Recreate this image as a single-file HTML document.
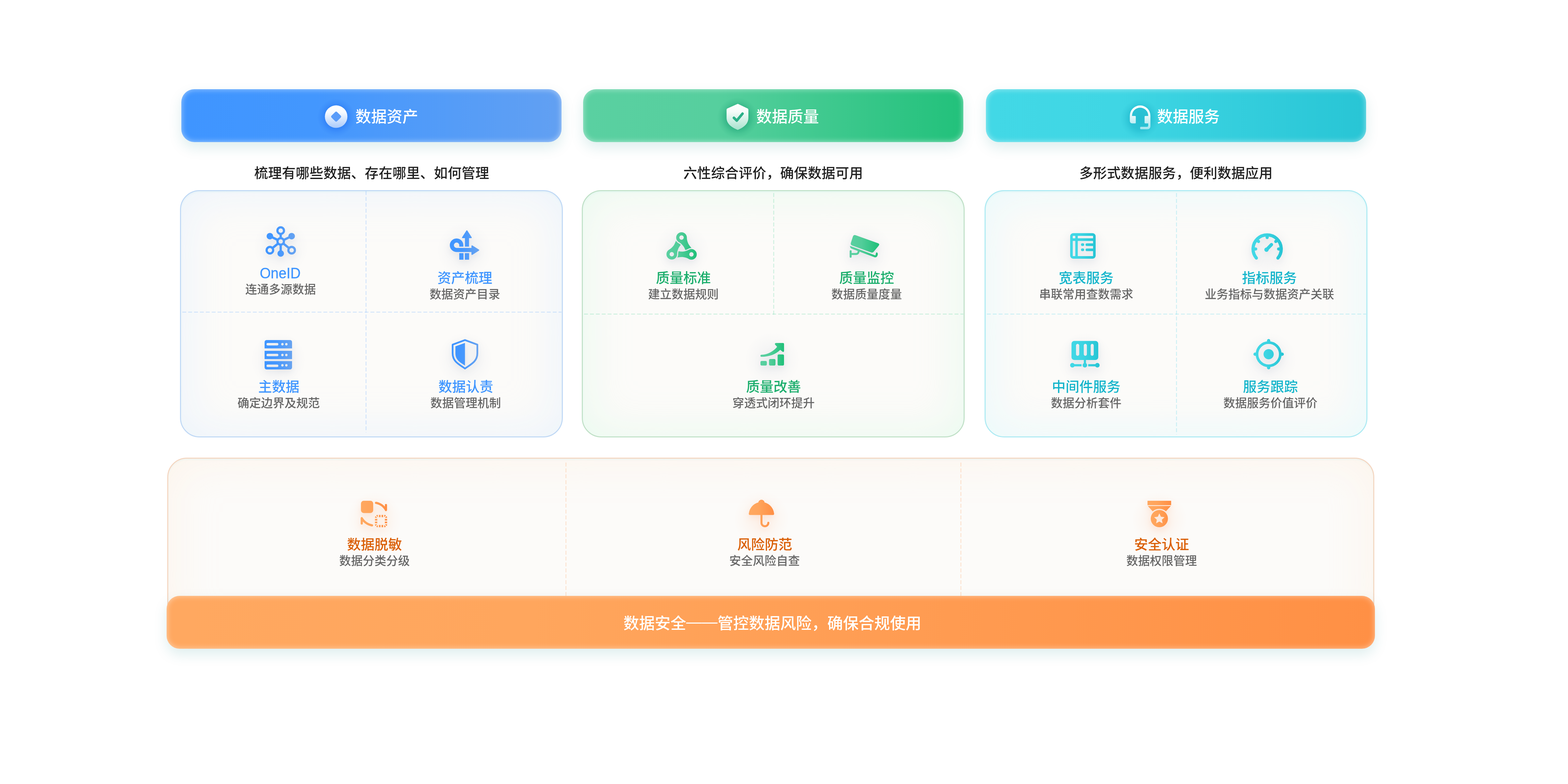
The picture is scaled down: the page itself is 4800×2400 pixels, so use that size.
<!DOCTYPE html>
<html lang="zh-CN">
<head>
<meta charset="utf-8">
<title>数据治理</title>
<style>
*{box-sizing:border-box;margin:0;padding:0}
html,body{width:4800px;height:2400px;background:#fff;overflow:hidden}
body{position:relative;will-change:transform;font-family:"Liberation Sans", "Noto Sans CJK SC", sans-serif;-webkit-font-smoothing:antialiased}
.abs{position:absolute}
.hdr{position:absolute;top:273px;width:1164px;height:162px;border-radius:40px;
  box-shadow:inset 0 0 18px rgba(255,255,255,.55),0 17px 40px rgba(0,125,130,.135)}
.hdr.b{left:555px;background:linear-gradient(90deg,#3f95ff 0%,#4397fe 35%,#62a0f2 100%)}
.hdr.g{left:1785px;background:linear-gradient(90deg,#5ad0a1 0%,#56cf9e 35%,#22c17b 100%)}
.hdr.c{left:3018px;background:linear-gradient(90deg,#42d8e6 0%,#3fd6e4 35%,#28c5d5 100%)}
.hdr .t{position:absolute;top:4px;height:162px;line-height:162px;font-size:48px;font-weight:500;color:#fff;white-space:nowrap}
.hdr svg{position:absolute;overflow:visible}
.sub{position:absolute;top:501px;letter-spacing:.3px;height:60px;line-height:60px;font-size:42px;font-weight:500;color:#1f1f1f;white-space:nowrap;text-align:center;width:1000px}
.panel{position:absolute;top:582px;width:1172px;height:757px;border-radius:60px;border:3px solid;background:#fcfbf9}
.panel.b{left:551px;border-color:#bfd8f5;box-shadow:inset 0 0 140px rgba(226,240,253,.7),inset 0 3px 5px rgba(0,185,195,.1)}
.panel.g{left:1781px;border-color:#bfe0c6;box-shadow:inset 0 0 140px rgba(224,250,233,.75),inset 0 3px 5px rgba(0,185,195,.1)}
.panel.c{left:3014px;border-color:#abeaf3;box-shadow:inset 0 0 140px rgba(222,249,253,.7),inset 0 3px 5px rgba(0,185,195,.1)}
.panel.o{left:512px;top:1401px;width:3695px;height:570px;border-color:#f4d5bf;box-shadow:inset 0 0 140px rgba(253,241,228,.7),inset 0 3px 5px rgba(0,185,195,.1)}
.bar{position:absolute;left:510px;top:1824px;width:3699px;height:162px;border-radius:40px;
  background:linear-gradient(90deg,#ffa860 0%,#ffa65d 30%,#ff9045 100%);
  box-shadow:inset 0 0 18px rgba(255,255,255,.5),0 17px 40px rgba(0,125,130,.135);
  color:#fff;font-size:48px;font-weight:500;line-height:162px;text-align:center;white-space:nowrap}
.bar span{position:relative;left:5px;top:4px}
.bar i{font-style:normal;position:relative;top:-5px}
.vl,.hl{position:absolute}
.vl{width:3px}
.hl{height:3px}
.vl.b{background:repeating-linear-gradient(180deg,rgba(64,150,255,.2) 0 12px,transparent 12px 18px)}
.hl.b{background:repeating-linear-gradient(90deg,rgba(64,150,255,.2) 0 12px,transparent 12px 18px)}
.vl.g{background:repeating-linear-gradient(180deg,rgba(40,200,130,.2) 0 12px,transparent 12px 18px)}
.hl.g{background:repeating-linear-gradient(90deg,rgba(40,200,130,.2) 0 12px,transparent 12px 18px)}
.vl.c{background:repeating-linear-gradient(180deg,rgba(40,200,225,.2) 0 12px,transparent 12px 18px)}
.hl.c{background:repeating-linear-gradient(90deg,rgba(40,200,225,.2) 0 12px,transparent 12px 18px)}
.vl.o{background:repeating-linear-gradient(180deg,rgba(255,140,60,.2) 0 12px,transparent 12px 18px)}
.ti,.de{position:absolute;width:800px;text-align:center;white-space:nowrap}
.ti{font-size:42px;font-weight:500;height:56px;line-height:56px}
.de{font-size:36px;font-weight:500;height:50px;line-height:50px;color:#666}
.lat{display:inline-block;transform:scale(1.03,1.115);transform-origin:50% 76%;-webkit-text-stroke:.5px #4096ff}
.ti.b{color:#4096ff}.ti.g{color:#1bae6c}.ti.c{color:#14b5cb}.ti.o{color:#da5f06}
.ic{position:absolute;width:160px;height:140px;overflow:visible}
.ic.b,.ic.g,.ic.c{filter:drop-shadow(0 9px 10px rgba(95,112,150,.11))}
.ic.o{filter:drop-shadow(0 9px 10px rgba(255,125,55,.13))}
.bl{position:absolute;width:170px;height:170px;border-radius:50%}
.bl.n{background:radial-gradient(closest-side,rgba(100,118,160,.06) 0%,rgba(100,118,160,.05) 35%,rgba(100,118,160,.018) 72%,rgba(100,118,160,0) 100%)}
.bl.o{background:radial-gradient(closest-side,rgba(255,130,60,.075) 0%,rgba(255,130,60,.062) 35%,rgba(255,130,60,.024) 72%,rgba(255,130,60,0) 100%)}
</style>
</head>
<body>
<svg width="0" height="0" style="position:absolute">
<defs>
<linearGradient id="gb" gradientUnits="userSpaceOnUse" x1="34" y1="0" x2="126" y2="0"><stop offset="0" stop-color="#3f95ff"/><stop offset=".35" stop-color="#4397fe"/><stop offset="1" stop-color="#66a2f1"/></linearGradient>
<linearGradient id="gg" gradientUnits="userSpaceOnUse" x1="34" y1="0" x2="126" y2="0"><stop offset="0" stop-color="#5ad0a1"/><stop offset=".35" stop-color="#55ce9d"/><stop offset="1" stop-color="#22c17b"/></linearGradient>
<linearGradient id="gc" gradientUnits="userSpaceOnUse" x1="34" y1="0" x2="126" y2="0"><stop offset="0" stop-color="#42d8e6"/><stop offset=".35" stop-color="#3fd6e4"/><stop offset="1" stop-color="#28c5d5"/></linearGradient>
<linearGradient id="go" gradientUnits="userSpaceOnUse" x1="34" y1="0" x2="126" y2="0"><stop offset="0" stop-color="#ffa860"/><stop offset=".35" stop-color="#ffa55c"/><stop offset="1" stop-color="#ff9045"/></linearGradient>
<linearGradient id="hb" x1="0" y1="0" x2="0" y2="1"><stop offset="0" stop-color="#ffffff"/><stop offset=".3" stop-color="#f8fbff"/><stop offset="1" stop-color="#a9cafb"/></linearGradient>
<linearGradient id="hg" x1="0" y1="0" x2="0" y2="1"><stop offset="0" stop-color="#ffffff"/><stop offset=".3" stop-color="#f6fcfa"/><stop offset="1" stop-color="#a6e2cd"/></linearGradient>
<linearGradient id="hc" x1="0" y1="0" x2="0" y2="1"><stop offset="0" stop-color="#ffffff"/><stop offset=".3" stop-color="#f4fcfd"/><stop offset="1" stop-color="#a2e6ef"/></linearGradient>
<radialGradient id="glb"><stop offset="0" stop-color="#1866f0" stop-opacity=".5"/><stop offset=".55" stop-color="#1866f0" stop-opacity=".42"/><stop offset=".8" stop-color="#1866f0" stop-opacity=".14"/><stop offset="1" stop-color="#1866f0" stop-opacity="0"/></radialGradient>
<radialGradient id="glg"><stop offset="0" stop-color="#008a62" stop-opacity=".45"/><stop offset=".55" stop-color="#008a62" stop-opacity=".35"/><stop offset=".8" stop-color="#008a62" stop-opacity=".11"/><stop offset="1" stop-color="#008a62" stop-opacity="0"/></radialGradient>
<radialGradient id="glc"><stop offset="0" stop-color="#0098b4" stop-opacity=".38"/><stop offset=".55" stop-color="#0098b4" stop-opacity=".3"/><stop offset=".8" stop-color="#0098b4" stop-opacity=".1"/><stop offset="1" stop-color="#0098b4" stop-opacity="0"/></radialGradient>
</defs></svg>
<div class="hdr b"><svg style="left:394px;top:4px" width="160" height="160" viewBox="0 0 160 160"><circle cx="80" cy="82" r="58" fill="url(#glb)"/><circle cx="80" cy="80" r="34.5" fill="url(#hb)"/><path fill="#5a9cf9" d="M76.82 66.18Q80 63 83.18 66.18L93.82 76.82Q97 80 93.82 83.18L83.18 93.82Q80 97 76.82 93.82L66.18 83.18Q63 80 66.18 76.82Z"/></svg><div class="t" style="left:533px">数据资产</div></div>
<div class="hdr g"><svg style="left:392px;top:4px" width="160" height="160" viewBox="0 0 160 160"><circle cx="80.5" cy="83" r="62" fill="url(#glg)"/><path fill="url(#hg)" d="M80.5 41.3Q81.5 40.6 82.6 41.2L111.5 55Q114 56.2 114 59V84C114 104 96 114.5 82.5 120.2Q81.4 120.7 80.3 120.2C66.5 114.5 47.2 104 47.2 84V59Q47.2 56.2 49.7 55Z"/><path fill="none" stroke="#2bb088" stroke-width="7.8" stroke-linecap="round" stroke-linejoin="round" d="M69.7 83.7L78.4 92.3L96 71"/></svg><div class="t" style="left:530px">数据质量</div></div>
<div class="hdr c"><svg style="left:392px;top:4px" width="160" height="160" viewBox="0 0 160 160"><circle cx="80" cy="86" r="60" fill="url(#glc)"/><path fill="url(#hc)" fill-rule="evenodd" d="M48.7 77.3A31.5 31.5 0 0 1 111.7 77.3V108.8Q111.7 118.8 101.7 118.8H82.3Q80.3 118.8 80.3 116.8V113.2Q80.3 111.2 82.3 111.2H101Q105 111.2 105 107.2V100.8H95.8Q93.8 100.8 93.8 98.8V80Q93.8 78 95.8 78H105V77.3A24.8 24.8 0 0 0 55.4 77.3V78H64.9Q66.9 78 66.9 80V98.8Q66.9 100.8 64.9 100.8H56.7Q48.7 100.8 48.7 92.8Z"/></svg><div class="t" style="left:524px">数据服务</div></div>
<div class="sub" style="left:638px">梳理有哪些数据、存在哪里、如何管理</div>
<div class="sub" style="left:1867px">六性综合评价，确保数据可用</div>
<div class="sub" style="left:3100px">多形式数据服务，便利数据应用</div>
<div class="panel b"></div>
<div class="panel g"></div>
<div class="panel c"></div>
<div class="panel o"></div>
<div class="vl b" style="left:1119px;top:585px;height:739px"></div>
<div class="hl b" style="left:558px;top:954px;width:1161px"></div>
<div class="vl g" style="left:2367px;top:591px;height:372px"></div>
<div class="hl g" style="left:1788px;top:960px;width:1161px"></div>
<div class="vl c" style="left:3600px;top:591px;height:739px"></div>
<div class="hl c" style="left:3021px;top:960px;width:1161px"></div>
<div class="vl o" style="left:1731px;top:1416px;height:408px"></div>
<div class="vl o" style="left:2940px;top:1416px;height:408px"></div>
<div class="bl n" style="left:774.5px;top:670.5px"></div>
<svg class="ic b" style="left:780px;top:670px" viewBox="0 0 160 140"><defs><linearGradient id="g-oneid" gradientUnits="userSpaceOnUse" x1="33" y1="0" x2="126" y2="0"><stop offset="0" stop-color="#3f95ff"/><stop offset=".4" stop-color="#4497fe"/><stop offset="1" stop-color="#68a3f0"/></linearGradient></defs><g fill="none" stroke="url(#g-oneid)" stroke-width="6.6"><circle cx="79.3" cy="69" r="9.9"/><circle cx="79.3" cy="35.9" r="10.05"/><circle cx="46.2" cy="95.9" r="10"/><circle cx="112.8" cy="95.9" r="10"/></g><g fill="url(#g-oneid)"><circle cx="46.2" cy="52.9" r="10"/><circle cx="112.8" cy="52.9" r="10"/><circle cx="79.3" cy="106" r="10"/></g><g stroke="url(#g-oneid)" stroke-width="7" fill="none"><path d="M79.3 57L79.3 47.9"/><path d="M79.3 81L79.3 101"/><path d="M68.51 63.75L50.7 55.09"/><path d="M90.12 63.8L108.29 55.07"/><path d="M69.99 76.57L55.51 88.33"/><path d="M88.66 76.51L103.44 88.39"/></g></svg>
<div class="ti b" style="left:458.0px;top:809.5px"><span class="lat">OneID</span></div>
<div class="de" style="left:459.0px;top:861.5px">连通多源数据</div>
<div class="bl n" style="left:1337.0px;top:681.0px"></div>
<svg class="ic b" style="left:1345px;top:680px" viewBox="0 0 160 140"><defs><linearGradient id="g-route" gradientUnits="userSpaceOnUse" x1="32" y1="0" x2="122" y2="0"><stop offset="0" stop-color="#3f95ff"/><stop offset=".4" stop-color="#4497fe"/><stop offset="1" stop-color="#68a3f0"/></linearGradient></defs><path fill="url(#g-route)" d="M82.35 26.49Q84.2 23.6 86.06 26.49L98.42 45.71Q100.6 49.1 96.57 49.1L71.92 49.1Q67.9 49.1 70.06 45.72Z"/><path fill="url(#g-route)" d="M78.3 48h12.5v27h-12.5z"/><path fill="none" stroke="url(#g-route)" stroke-width="12.5" d="M67.15 75V70.7A14.45 14.45 0 1 0 52.7 85.15H99"/><path fill="url(#g-route)" d="M120.67 83.66Q123.6 85.5 120.69 87.38L101.59 99.71Q98.2 101.9 98.2 97.86L98.2 73.57Q98.2 69.6 101.57 71.71Z"/><path fill="url(#g-route)" d="M60.9 95.1h13v19.9h-13zM78 95.1h13.1v19.9h-13.1z"/></svg>
<div class="ti b" style="left:1023.0px;top:823.5px">资产梳理</div>
<div class="de" style="left:1023.0px;top:876.5px">数据资产目录</div>
<div class="bl n" style="left:767.0px;top:1017.0px"></div>
<svg class="ic b" style="left:772px;top:1015px" viewBox="0 0 160 140"><defs><linearGradient id="g-server" gradientUnits="userSpaceOnUse" x1="38" y1="0" x2="122" y2="0"><stop offset="0" stop-color="#3f95ff"/><stop offset=".4" stop-color="#4497fe"/><stop offset="1" stop-color="#68a3f0"/></linearGradient></defs><path fill="url(#g-server)" fill-rule="evenodd" d="M44 25.9H116a6 6 0 0 1 6 6V51.6H38V31.9a6 6 0 0 1 6-6ZM38 59H122V84.2H38ZM38 90.4H122V110.1a6 6 0 0 1-6 6H44a6 6 0 0 1-6-6ZM47.6 35h28.8a3.8 3.8 0 0 1 3.8 3.8v0a3.8 3.8 0 0 1 -3.8 3.8h-28.8a3.8 3.8 0 0 1 -3.8 -3.8v-0a3.8 3.8 0 0 1 3.8 -3.8ZM88.8 38.8a3.7 3.7 0 1 0 7.4 0a3.7 3.7 0 1 0 -7.4 0ZM100.9 38.8a3.7 3.7 0 1 0 7.4 0a3.7 3.7 0 1 0 -7.4 0ZM47.6 67.9h28.8a3.8 3.8 0 0 1 3.8 3.8v0a3.8 3.8 0 0 1 -3.8 3.8h-28.8a3.8 3.8 0 0 1 -3.8 -3.8v-0a3.8 3.8 0 0 1 3.8 -3.8ZM88.8 71.7a3.7 3.7 0 1 0 7.4 0a3.7 3.7 0 1 0 -7.4 0ZM100.9 71.7a3.7 3.7 0 1 0 7.4 0a3.7 3.7 0 1 0 -7.4 0ZM47.6 100.9h28.8a3.8 3.8 0 0 1 3.8 3.8v0a3.8 3.8 0 0 1 -3.8 3.8h-28.8a3.8 3.8 0 0 1 -3.8 -3.8v-0a3.8 3.8 0 0 1 3.8 -3.8ZM88.8 103.2a3.7 3.7 0 1 0 7.4 0a3.7 3.7 0 1 0 -7.4 0ZM100.9 103.2a3.7 3.7 0 1 0 7.4 0a3.7 3.7 0 1 0 -7.4 0Z"/></svg>
<div class="ti b" style="left:453.5px;top:1156.5px">主数据</div>
<div class="de" style="left:453.0px;top:1210.0px">确定边界及规范</div>
<div class="bl n" style="left:1338.5px;top:1015.5px"></div>
<svg class="ic b" style="left:1343px;top:1015px" viewBox="0 0 160 140"><defs><linearGradient id="g-shield" gradientUnits="userSpaceOnUse" x1="40" y1="0" x2="121" y2="0"><stop offset="0" stop-color="#3f95ff"/><stop offset=".4" stop-color="#4497fe"/><stop offset="1" stop-color="#68a3f0"/></linearGradient></defs><path fill="none" stroke="url(#g-shield)" stroke-width="5.3" stroke-linejoin="round" d="M80.4 25.9L118.3 39.9V66C118.3 92 99 100 80.4 113.1C61.8 100 42.6 92 42.6 66V39.9Z"/><path fill="url(#g-shield)" d="M80.4 34.8L51.1 45.2V66.5C51.1 87 66 94.5 80.4 104.1Z"/></svg>
<div class="ti b" style="left:1026.0px;top:1156.5px">数据认责</div>
<div class="de" style="left:1025.5px;top:1210.0px">数据管理机制</div>
<div class="bl n" style="left:2001.5px;top:684.0px"></div>
<svg class="ic g" style="left:2007px;top:685px" viewBox="0 0 160 140"><defs><linearGradient id="g-chain" gradientUnits="userSpaceOnUse" x1="33" y1="0" x2="126" y2="0"><stop offset="0" stop-color="#5ad0a1"/><stop offset=".4" stop-color="#52cd9a"/><stop offset="1" stop-color="#1fc079"/></linearGradient></defs><defs><mask id="cm0" maskUnits="userSpaceOnUse" x="0" y="0" width="160" height="140"><rect width="160" height="140" fill="#fff"/><path d="M102.04 79.26Q94.66 84 82.66 85.22Q73.65 85.46 53.58 80.83L53.42 105.83Q73.55 101.46 82.55 101.82Q94.54 103.2 101.85 108.04ZM93.3 93.7a16.3 16.3 0 1 0 32.6 0a16.3 16.3 0 1 0 -32.6 0Z" fill="#000" stroke="#000" stroke-width="6.4" stroke-linejoin="round"/><circle cx="79.3" cy="42.2" r="6.7" fill="#000"/></mask><mask id="cm1" maskUnits="userSpaceOnUse" x="0" y="0" width="160" height="140"><rect width="160" height="140" fill="#fff"/><path d="M65.79 93.94Q65.35 85.18 70.27 74.16Q74.55 66.23 88.08 51.95L66.49 39.36Q60.72 58.17 55.93 65.8Q48.76 75.51 40.92 79.44ZM33.2 93.3a16.3 16.3 0 1 0 32.6 0a16.3 16.3 0 1 0 -32.6 0Z" fill="#000" stroke="#000" stroke-width="6.4" stroke-linejoin="round"/><circle cx="109.6" cy="93.7" r="6.7" fill="#000"/></mask><mask id="cm2" maskUnits="userSpaceOnUse" x="0" y="0" width="160" height="140"><rect width="160" height="140" fill="#fff"/><path d="M70.78 56.09Q78.63 60 85.84 69.68Q90.66 77.28 96.8 96.59L118.35 83.91Q104.45 69.17 100.15 61.26Q95.18 50.26 95.58 41.5ZM63 42.2a16.3 16.3 0 1 0 32.6 0a16.3 16.3 0 1 0 -32.6 0Z" fill="#000" stroke="#000" stroke-width="6.4" stroke-linejoin="round"/><circle cx="49.5" cy="93.3" r="6.7" fill="#000"/></mask></defs><g mask="url(#cm0)"><path fill="url(#g-chain)" d="M70.78 56.09Q78.63 60 85.84 69.68Q90.66 77.28 96.8 96.59L118.35 83.91Q104.45 69.17 100.15 61.26Q95.18 50.26 95.58 41.5ZM63 42.2a16.3 16.3 0 1 0 32.6 0a16.3 16.3 0 1 0 -32.6 0Z"/></g><g mask="url(#cm1)"><path fill="url(#g-chain)" d="M102.04 79.26Q94.66 84 82.66 85.22Q73.65 85.46 53.58 80.83L53.42 105.83Q73.55 101.46 82.55 101.82Q94.54 103.2 101.85 108.04ZM93.3 93.7a16.3 16.3 0 1 0 32.6 0a16.3 16.3 0 1 0 -32.6 0Z"/></g><g mask="url(#cm2)"><path fill="url(#g-chain)" d="M65.79 93.94Q65.35 85.18 70.27 74.16Q74.55 66.23 88.08 51.95L66.49 39.36Q60.72 58.17 55.93 65.8Q48.76 75.51 40.92 79.44ZM33.2 93.3a16.3 16.3 0 1 0 32.6 0a16.3 16.3 0 1 0 -32.6 0Z"/></g></svg>
<div class="ti g" style="left:1692.0px;top:823.5px">质量标准</div>
<div class="de" style="left:1692.0px;top:876.5px">建立数据规则</div>
<div class="bl n" style="left:2561.0px;top:685.0px"></div>
<svg class="ic g" style="left:2566px;top:690px" viewBox="0 0 160 140"><defs><linearGradient id="g-camera" gradientUnits="userSpaceOnUse" x1="35" y1="0" x2="125" y2="0"><stop offset="0" stop-color="#5ad0a1"/><stop offset=".4" stop-color="#52cd9a"/><stop offset="1" stop-color="#1fc079"/></linearGradient></defs><path fill="url(#g-camera)" d="M44.79 34.6Q47 27.7 53.82 30.16L121.42 54.49Q128.1 56.9 123.58 62.38L108.64 80.5Q105.5 84.3 100.86 82.63L43.15 61.79Q36.8 59.5 38.86 53.07Z"/><path fill="url(#g-camera)" d="M36.2 62.8L112.6 91.5Q114 92 114.3 90.3L115.6 84.2Q117.5 80.8 120 84Q122.3 87.5 120.2 92.3Q117.5 99.5 110.3 97.3L42.5 71.8Q36.2 69.5 36.2 64Z"/><path fill="none" stroke="url(#g-camera)" stroke-width="6" stroke-linecap="round" d="M38 79V96"/><path fill="none" stroke="url(#g-camera)" stroke-width="6" stroke-linecap="butt" d="M38 87.4H55Q61 87.4 62.5 80L63.4 76.5"/></svg>
<div class="ti g" style="left:2253.0px;top:823.5px">质量监控</div>
<div class="de" style="left:2253.0px;top:876.5px">数据质量度量</div>
<div class="bl n" style="left:2279.0px;top:1015.5px"></div>
<svg class="ic g" style="left:2285px;top:1015px" viewBox="0 0 160 140"><defs><linearGradient id="g-growth" gradientUnits="userSpaceOnUse" x1="43" y1="0" x2="115" y2="0"><stop offset="0" stop-color="#5ad0a1"/><stop offset=".4" stop-color="#52cd9a"/><stop offset="1" stop-color="#1fc079"/></linearGradient></defs><path fill="url(#g-growth)" d="M46.9 90h11.6a4 4 0 0 1 4 4v6.1a4 4 0 0 1 -4 4h-11.6a4 4 0 0 1 -4 -4v-6.1a4 4 0 0 1 4 -4ZM73.2 83.9h11.7a4 4 0 0 1 4 4v12.2a4 4 0 0 1 -4 4h-11.7a4 4 0 0 1 -4 -4v-12.2a4 4 0 0 1 4 -4ZM99.4 69.9h11.6a4 4 0 0 1 4 4v26.2a4 4 0 0 1 -4 4h-11.6a4 4 0 0 1 -4 -4v-26.2a4 4 0 0 1 4 -4Z"/><path fill="url(#g-growth)" d="M45.9 71.1C66 70.3 82.5 60.5 94 46.7L88.2 40.6Q85.2 36.8 89.8 35.1L111.8 35Q115.1 35 115.1 38.3V59.3Q114.4 64 110.3 61.6L103.4 55.9C90 69.5 69.5 77 45.9 77.2A3.05 3.05 0 0 1 45.9 71.1Z"/></svg>
<div class="ti g" style="left:1968.0px;top:1156.5px">质量改善</div>
<div class="de" style="left:1968.0px;top:1210.0px">穿透式闭环提升</div>
<div class="bl n" style="left:3230.0px;top:684.0px"></div>
<svg class="ic c" style="left:3235px;top:685px" viewBox="0 0 160 140"><defs><linearGradient id="g-table" gradientUnits="userSpaceOnUse" x1="41" y1="0" x2="119" y2="0"><stop offset="0" stop-color="#42d8e6"/><stop offset=".4" stop-color="#3dd5e3"/><stop offset="1" stop-color="#26c4d4"/></linearGradient></defs><path fill="url(#g-table)" fill-rule="evenodd" d="M50.5 28.8h59a9.5 9.5 0 0 1 9.5 9.5v59.3a9.5 9.5 0 0 1 -9.5 9.5h-59a9.5 9.5 0 0 1 -9.5 -9.5v-59.3a9.5 9.5 0 0 1 9.5 -9.5ZM50.1 37h5.4a1.2 1.2 0 0 1 1.2 1.2v5.2a1.2 1.2 0 0 1 -1.2 1.2h-5.4a1.2 1.2 0 0 1 -1.2 -1.2v-5.2a1.2 1.2 0 0 1 1.2 -1.2ZM65.5 37h44.4a1.2 1.2 0 0 1 1.2 1.2v5.2a1.2 1.2 0 0 1 -1.2 1.2h-44.4a1.2 1.2 0 0 1 -1.2 -1.2v-5.2a1.2 1.2 0 0 1 1.2 -1.2ZM50.1 52.4h5.4a1.2 1.2 0 0 1 1.2 1.2v44.3a1.2 1.2 0 0 1 -1.2 1.2h-5.4a1.2 1.2 0 0 1 -1.2 -1.2v-44.3a1.2 1.2 0 0 1 1.2 -1.2ZM65.5 52.4h44.4a1.2 1.2 0 0 1 1.2 1.2v44.3a1.2 1.2 0 0 1 -1.2 1.2h-44.4a1.2 1.2 0 0 1 -1.2 -1.2v-44.3a1.2 1.2 0 0 1 1.2 -1.2Z"/><path fill="url(#g-table)" d="M78.2 59.8h1.7a4.1 4.1 0 0 1 4.1 4.1v0a4.1 4.1 0 0 1 -4.1 4.1h-1.7a4.1 4.1 0 0 1 -4.1 -4.1v-0a4.1 4.1 0 0 1 4.1 -4.1ZM92 59.9H112V67.9H92a4 4 0 0 1 0 -8Z"/><path fill="url(#g-table)" d="M78.2 75.6h1.7a4.1 4.1 0 0 1 4.1 4.1v0a4.1 4.1 0 0 1 -4.1 4.1h-1.7a4.1 4.1 0 0 1 -4.1 -4.1v-0a4.1 4.1 0 0 1 4.1 -4.1ZM92 75.7H112V83.7H92a4 4 0 0 1 0 -8Z"/></svg>
<div class="ti c" style="left:2925.0px;top:823.5px">宽表服务</div>
<div class="de" style="left:2925.0px;top:876.5px">串联常用查数需求</div>
<div class="bl n" style="left:3794.0px;top:685.5px"></div>
<svg class="ic c" style="left:3799px;top:685px" viewBox="0 0 160 140"><defs><linearGradient id="g-gauge" gradientUnits="userSpaceOnUse" x1="32" y1="0" x2="128" y2="0"><stop offset="0" stop-color="#42d8e6"/><stop offset=".4" stop-color="#3dd5e3"/><stop offset="1" stop-color="#26c4d4"/></linearGradient></defs><path fill="none" stroke="url(#g-gauge)" stroke-width="9.8" stroke-linecap="round" d="M46.98 104.9A43.1 43.1 0 1 1 113.02 104.9"/><path fill="none" stroke="url(#g-gauge)" stroke-width="9.6" stroke-linecap="round" d="M39 77.2L45 77.2M49.06 50.3L53.59 54.24M80 36.2L80 42.2M110.94 50.3L106.41 54.24M121 77.2L115 77.2"/><path fill="none" stroke="url(#g-gauge)" stroke-width="10" stroke-linecap="round" d="M78.5 79L93.2 63.8"/><circle cx="78" cy="79.4" r="6.6" fill="url(#g-gauge)"/></svg>
<div class="ti c" style="left:3486.0px;top:823.5px">指标服务</div>
<div class="de" style="left:3486.0px;top:876.5px">业务指标与数据资产关联</div>
<div class="bl n" style="left:3236.0px;top:1015.5px"></div>
<svg class="ic c" style="left:3241px;top:1015px" viewBox="0 0 160 140"><defs><linearGradient id="g-mid" gradientUnits="userSpaceOnUse" x1="35" y1="0" x2="125" y2="0"><stop offset="0" stop-color="#42d8e6"/><stop offset=".4" stop-color="#3dd5e3"/><stop offset="1" stop-color="#26c4d4"/></linearGradient></defs><path fill="url(#g-mid)" fill-rule="evenodd" d="M47.6 28.8h64.9a8.5 8.5 0 0 1 8.5 8.5v41.2a8.5 8.5 0 0 1 -8.5 8.5h-64.9a8.5 8.5 0 0 1 -8.5 -8.5v-41.2a8.5 8.5 0 0 1 8.5 -8.5ZM57.85 37.8h0a4.95 4.95 0 0 1 4.95 4.95v26.5a4.95 4.95 0 0 1 -4.95 4.95h-0a4.95 4.95 0 0 1 -4.95 -4.95v-26.5a4.95 4.95 0 0 1 4.95 -4.95ZM81.4 37.8h0a4.8 4.8 0 0 1 4.8 4.8v26.8a4.8 4.8 0 0 1 -4.8 4.8h-0a4.8 4.8 0 0 1 -4.8 -4.8v-26.8a4.8 4.8 0 0 1 4.8 -4.8ZM102.45 37.8h0a4.65 4.65 0 0 1 4.65 4.65v27.1a4.65 4.65 0 0 1 -4.65 4.65h-0a4.65 4.65 0 0 1 -4.65 -4.65v-27.1a4.65 4.65 0 0 1 4.65 -4.65Z"/><path fill="url(#g-mid)" d="M76.8 86.5h6.6v12h-6.6z"/><circle cx="80" cy="103" r="7" fill="url(#g-mid)"/><circle cx="41.8" cy="103" r="7" fill="url(#g-mid)"/><circle cx="118.2" cy="103" r="7" fill="url(#g-mid)"/><path fill="url(#g-mid)" d="M41.8 99.7H69.9V106.5H41.8Z"/><path fill="url(#g-mid)" d="M90.2 99.7H118.2V106.5H90.2Z"/></svg>
<div class="ti c" style="left:2925.0px;top:1156.5px">中间件服务</div>
<div class="de" style="left:2925.0px;top:1210.0px">数据分析套件</div>
<div class="bl n" style="left:3798.5px;top:1015.5px"></div>
<svg class="ic c" style="left:3804px;top:1015px" viewBox="0 0 160 140"><defs><linearGradient id="g-target" gradientUnits="userSpaceOnUse" x1="33" y1="0" x2="126" y2="0"><stop offset="0" stop-color="#42d8e6"/><stop offset=".4" stop-color="#3dd5e3"/><stop offset="1" stop-color="#26c4d4"/></linearGradient></defs><circle cx="79.6" cy="69.3" r="35.6" fill="none" stroke="url(#g-target)" stroke-width="8.1"/><circle cx="79.6" cy="69.3" r="15.6" fill="url(#g-target)"/><path fill="none" stroke="url(#g-target)" stroke-width="10.1" stroke-linecap="round" d="M116.6 69.3L121.1 69.3M79.6 106.3L79.6 110.8M42.6 69.3L38.1 69.3M79.6 32.3L79.6 27.8"/></svg>
<div class="ti c" style="left:3489.0px;top:1156.5px">服务跟踪</div>
<div class="de" style="left:3489.0px;top:1210.0px">数据服务价值评价</div>
<div class="bl o" style="left:1059.5px;top:1504.5px"></div>
<svg class="ic o" style="left:1065px;top:1505px" viewBox="0 0 160 140"><defs><linearGradient id="g-swap" gradientUnits="userSpaceOnUse" x1="39" y1="0" x2="120" y2="0"><stop offset="0" stop-color="#ffa860"/><stop offset=".4" stop-color="#ffa45b"/><stop offset="1" stop-color="#ff8e43"/></linearGradient></defs><path fill="url(#g-swap)" d="M48.5 27.9h20.4a8.5 8.5 0 0 1 8.5 8.5v20.5a8.5 8.5 0 0 1 -8.5 8.5h-20.4a8.5 8.5 0 0 1 -8.5 -8.5v-20.5a8.5 8.5 0 0 1 8.5 -8.5Z"/><defs><mask id="sm" maskUnits="userSpaceOnUse" x="0" y="0" width="160" height="140"><rect width="160" height="140" fill="#fff"/><path d="M93.4 60V120M60 81.8H140M101.45 60V120M60 90.1H140M109.5 60V120M60 98.4H140" stroke="#000" stroke-width="3.2" fill="none"/><path d="M82.8 71.2L120.1 109M120.1 71.2L82.8 109" stroke="#000" stroke-width="2.6" fill="none"/></mask></defs><path mask="url(#sm)" fill="url(#g-swap)" fill-rule="evenodd" d="M91.3 71.2h20.3a8.5 8.5 0 0 1 8.5 8.5v20.8a8.5 8.5 0 0 1 -8.5 8.5h-20.3a8.5 8.5 0 0 1 -8.5 -8.5v-20.8a8.5 8.5 0 0 1 8.5 -8.5ZM91.9 78.3h19.1a2 2 0 0 1 2 2v19.6a2 2 0 0 1 -2 2h-19.1a2 2 0 0 1 -2 -2v-19.6a2 2 0 0 1 2 -2Z"/><path fill="none" stroke="url(#g-swap)" stroke-width="6.6" stroke-linecap="round" stroke-linejoin="round" d="M86 34.3Q106.5 38.5 116.5 56.3V41"/><path fill="none" stroke="url(#g-swap)" stroke-width="6.6" stroke-linecap="round" stroke-linejoin="round" d="M73.9 103.2Q53 99 42.4 81.2V97.6"/></svg>
<div class="ti o" style="left:746.5px;top:1639.5px">数据脱敏</div>
<div class="de" style="left:746.5px;top:1692.5px">数据分类分级</div>
<div class="bl o" style="left:2246.0px;top:1503.0px"></div>
<svg class="ic o" style="left:2251px;top:1505px" viewBox="0 0 160 140"><defs><linearGradient id="g-umbrella" gradientUnits="userSpaceOnUse" x1="41" y1="0" x2="119" y2="0"><stop offset="0" stop-color="#ffa860"/><stop offset=".4" stop-color="#ffa45b"/><stop offset="1" stop-color="#ff8e43"/></linearGradient></defs><path fill="url(#g-umbrella)" d="M45 71.5Q41 71.5 41.3 67.3A38.9 39.5 0 0 1 118.7 67.3Q119 71.5 115 71.5Z"/><circle cx="80" cy="34.4" r="9.6" fill="url(#g-umbrella)"/><path fill="none" stroke="url(#g-umbrella)" stroke-width="6.2" stroke-linecap="round" d="M80 70V95.4A10.5 10.5 0 0 0 101 95.4"/></svg>
<div class="ti o" style="left:1941.0px;top:1639.5px">风险防范</div>
<div class="de" style="left:1940.5px;top:1692.5px">安全风险自查</div>
<div class="bl o" style="left:3464.0px;top:1504.5px"></div>
<svg class="ic o" style="left:3469px;top:1505px" viewBox="0 0 160 140"><defs><linearGradient id="g-medal" gradientUnits="userSpaceOnUse" x1="44" y1="0" x2="116" y2="0"><stop offset="0" stop-color="#ffa860"/><stop offset=".4" stop-color="#ffa45b"/><stop offset="1" stop-color="#ff8e43"/></linearGradient></defs><path fill="url(#g-medal)" d="M43.8 27.9H116.1V41.5H43.8Z"/><path fill="url(#g-medal)" d="M44.8 44H115L100.2 60.3A30.5 30.5 0 0 0 59.6 60.3Z"/><path fill="url(#g-medal)" fill-rule="evenodd" d="M53.7 82.6a26.3 26.3 0 1 0 52.6 0a26.3 26.3 0 1 0 -52.6 0ZM80 66.6L84.76 76.85L95.98 78.21L87.7 85.9L89.87 96.99L80 91.5L70.13 96.99L72.3 85.9L64.02 78.21L75.24 76.85Z"/></svg>
<div class="ti o" style="left:3156.0px;top:1639.5px">安全认证</div>
<div class="de" style="left:3156.0px;top:1692.5px">数据权限管理</div>
<div class="bar"><span>数据安全<i>——</i>管控数据风险，确保合规使用</span></div>
</body>
</html>
